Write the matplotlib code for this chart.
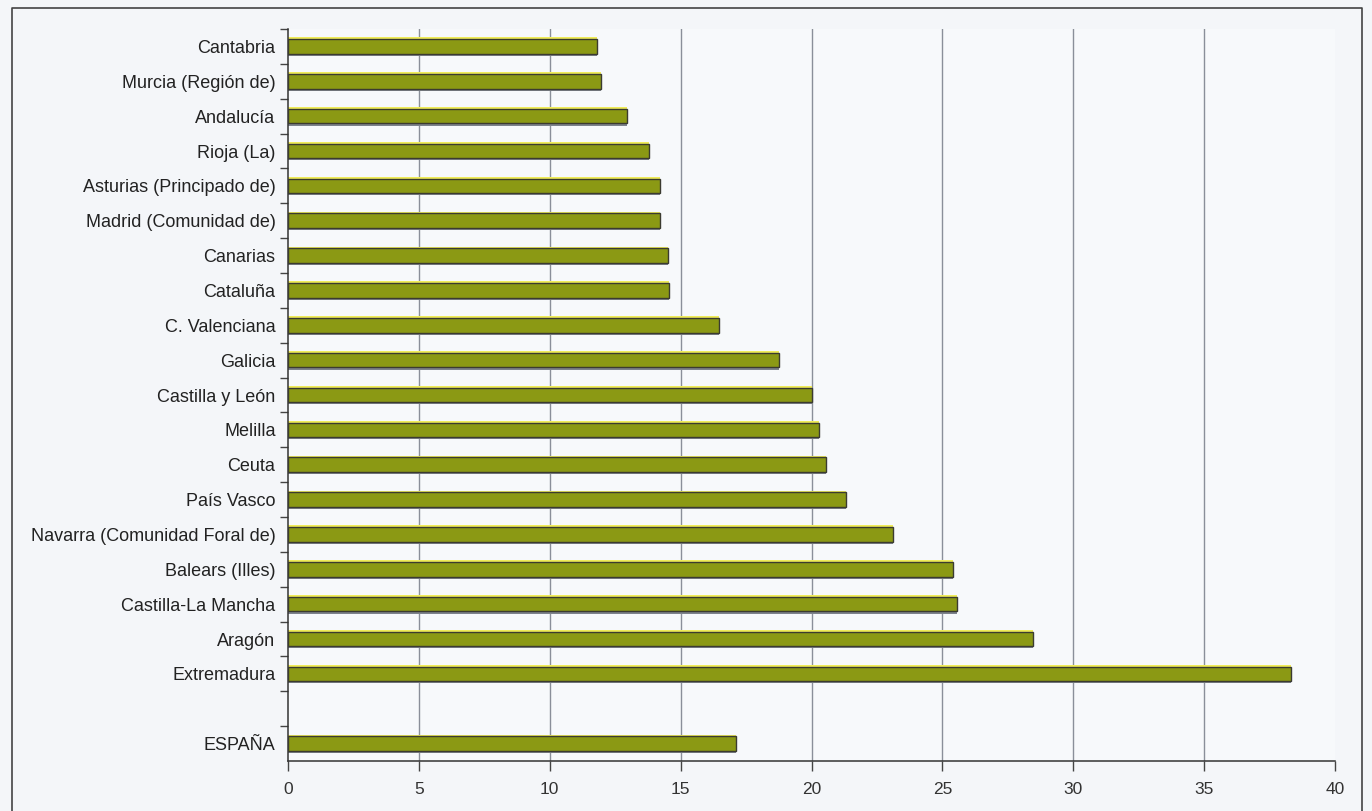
import matplotlib
matplotlib.use("Agg")
import matplotlib.pyplot as plt
from matplotlib.lines import Line2D
import numpy as np

plt.rcParams['font.family'] = ['Liberation Sans', 'DejaVu Sans']

regions = ["Cantabria", "Murcia (Región de)", "Andalucía", "Rioja (La)",
           "Asturias (Principado de)", "Madrid (Comunidad de)", "Canarias",
           "Cataluña", "C. Valenciana", "Galicia", "Castilla y León", "Melilla",
           "Ceuta", "País Vasco", "Navarra (Comunidad Foral de)", "Balears (Illes)",
           "Castilla-La Mancha", "Aragón", "Extremadura"]
values = [11.8, 11.95, 12.95, 13.8, 14.2, 14.22, 14.5, 14.55, 16.45, 18.75,
          20.0, 20.28, 20.56, 21.3, 23.1, 25.4, 25.55, 28.45, 38.3]
total_label = "ESPAÑA"
total_value = 17.12
xticks = [0, 5, 10, 15, 20, 25, 30, 35, 40]

labels = regions + [total_label]
vals = np.array(values + [total_value])
pos = np.array(list(range(len(regions))) + [len(regions) + 1])

bg = '#f4f6f9'
fig = plt.figure(figsize=(13.72, 8.11), dpi=100, facecolor=bg)
ax = fig.add_axes([288/1372, 1 - 761/811, (1335 - 288)/1372, (761 - 29)/811])
ax.set_facecolor('#f7f9fb')

h = 0.42
# glow (yellow) above and shadow (grey) below
ax.barh(pos - 0.05, vals, height=h, color='#f0ec5a', edgecolor='none', zorder=2)
ax.barh(pos + 0.06, vals, height=h, color='#7d838c', edgecolor='none', zorder=2)
ax.barh(pos, vals, height=h, color='#8b9914', edgecolor='#3b3b30', linewidth=1.0, zorder=3)

ax.set_xlim(0, 40)
ax.set_ylim(len(regions) + 1.5, -0.5)
ax.set_xticks(xticks)
ax.set_xticklabels([str(t) for t in xticks], fontsize=12.5, color='#333333')
ax.set_yticks(pos)
ax.set_yticklabels(labels, fontsize=13, color='#222222')
ax.tick_params(axis='y', which='major', length=0, pad=9)
ax.set_yticks(np.arange(-0.5, len(regions) + 1.0, 1.0), minor=True)
ax.tick_params(axis='y', which='minor', length=6, width=1, color='#444444', direction='out')
ax.tick_params(axis='x', length=7, width=1, color='#444444', pad=8)

for t in xticks[1:-1]:
    ax.axvline(t, color='#8a8f99', linewidth=1.0, zorder=1)

for s in ['top', 'right']:
    ax.spines[s].set_visible(False)
for s in ['left', 'bottom']:
    ax.spines[s].set_color('#333333')
    ax.spines[s].set_linewidth(1.1)

# outer frame of the figure panel
fx0, fx1 = 12/1372, 1362/1372
fy0, fy1 = -0.01, 1 - 8/811
fig.add_artist(Line2D([fx0, fx0, fx1, fx1], [fy0, fy1, fy1, fy0],
                      transform=fig.transFigure, color='#444444', linewidth=1.2))

fig.savefig('out.png', dpi=100, facecolor=bg)
